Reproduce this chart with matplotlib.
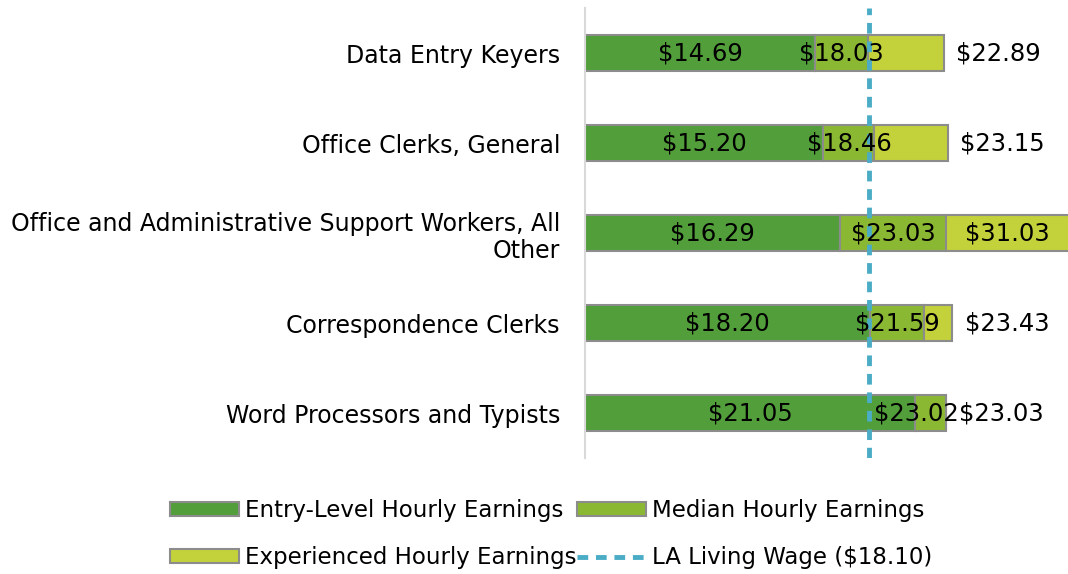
import matplotlib
matplotlib.use("Agg")
import matplotlib.pyplot as plt
import numpy as np
from matplotlib.lines import Line2D
from matplotlib.patches import Patch

occupations = ["Data Entry Keyers",
               "Office Clerks, General",
               "Office and Administrative Support Workers, All\nOther",
               "Correspondence Clerks",
               "Word Processors and Typists"]
entry = [14.69, 15.20, 16.29, 18.20, 21.05]
median = [18.03, 18.46, 23.03, 21.59, 23.02]
experienced = [22.89, 23.15, 31.03, 23.43, 23.03]
living_wage = 18.10

c_entry = "#529E3A"
c_median = "#8BB833"
c_exp = "#C3D13A"
c_edge = "#8C8C8C"
c_line = "#4BACC6"

plt.rcParams['font.family'] = ['DejaVu Sans']

fig = plt.figure(figsize=(10.68, 5.74), dpi=100)
ax = fig.add_axes([585/1068, 116/574, 1 - 585/1068, 450/574])

y = np.arange(len(occupations))
entry = np.array(entry)
median = np.array(median)
experienced = np.array(experienced)

h = 0.4
ax.barh(y, entry, height=h, color=c_entry, edgecolor=c_edge, linewidth=1.5)
ax.barh(y, median - entry, left=entry, height=h, color=c_median, edgecolor=c_edge, linewidth=1.5)
ax.barh(y, experienced - median, left=median, height=h, color=c_exp, edgecolor=c_edge, linewidth=1.5)

xmax = (1068 - 585) / 15.68
ax.set_xlim(0, xmax)
ax.set_ylim(len(occupations) - 0.5, -0.5)

ax.axvline(living_wage, color=c_line, linewidth=3.5, linestyle=(0, (2.2, 1.6)), zorder=5)

fs = 17.5
for i in range(len(occupations)):
    ax.text(entry[i] / 2, i, "$%.2f" % entry[i], ha='center', va='center', fontsize=fs, zorder=6)
    mid = (entry[i] + median[i]) / 2
    if experienced[i] - median[i] < 0.1:
        # label outside sits right next to it, so pull this one left
        mid = median[i] - 1.9
    ax.text(mid, i, "$%.2f" % median[i], ha='center', va='center', fontsize=fs, zorder=6)
    if experienced[i] > xmax:
        ax.text((median[i] + xmax) / 2, i, "$%.2f" % experienced[i], ha='center', va='center', fontsize=fs, zorder=6)
    else:
        ax.annotate("$%.2f" % experienced[i], (experienced[i], i), xytext=(9, 0), textcoords='offset points',
                    ha='left', va='center', fontsize=fs)

ax.set_yticks(y)
ax.set_yticklabels(occupations, fontsize=17, ha='right')
ax.tick_params(axis='y', length=0, pad=18)
ax.set_xticks([])
for s in ['top', 'right', 'bottom']:
    ax.spines[s].set_visible(False)
ax.spines['left'].set_color("#D9D9D9")
ax.spines['left'].set_linewidth(1.5)

handles = [Patch(facecolor=c_entry, edgecolor=c_edge, linewidth=1.5, label="Entry-Level Hourly Earnings"),
           Patch(facecolor=c_exp, edgecolor=c_edge, linewidth=1.5, label="Experienced Hourly Earnings"),
           Patch(facecolor=c_median, edgecolor=c_edge, linewidth=1.5, label="Median Hourly Earnings"),
           Line2D([], [], color=c_line, linewidth=3.5, linestyle=(0, (2.2, 1.6)), label="LA Living Wage ($18.10)")]
fig.legend(handles=handles, ncol=2, loc='lower center', bbox_to_anchor=(0.516, -0.028), frameon=False,
           fontsize=16.5, handlelength=3.0, handleheight=0.57, handletextpad=0.25, columnspacing=0.05,
           labelspacing=1.05)

fig.savefig("out.png", dpi=100)
